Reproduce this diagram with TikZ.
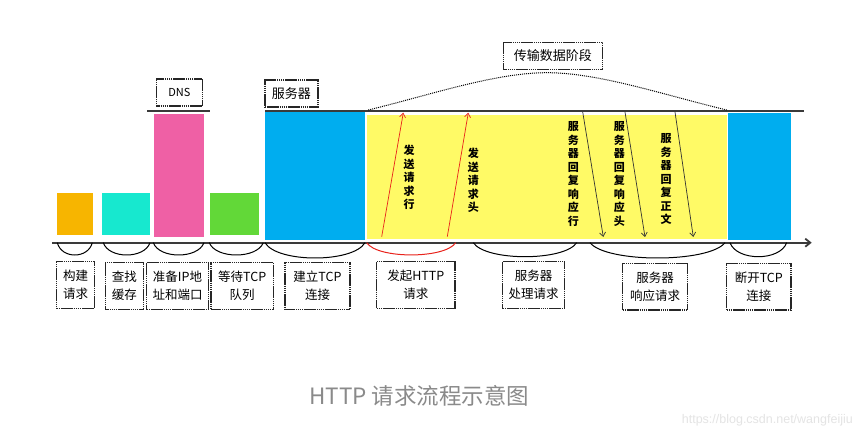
\documentclass[tikz,border=0pt]{standalone}
\usepackage{fontspec}
\setmainfont{Noto Sans CJK SC}
\newfontfamily\wmfont{Liberation Sans}
\usetikzlibrary{arrows.meta}
\definecolor{cOrange}{HTML}{F7B500}
\definecolor{cCyan}{HTML}{17E8CF}
\definecolor{cPink}{HTML}{EF60A5}
\definecolor{cGreen}{HTML}{62D838}
\definecolor{cBlue}{HTML}{00ADEF}
\definecolor{cYellow}{HTML}{FFFA66}
\definecolor{cLine}{HTML}{3A3A3A}
\definecolor{cRed}{HTML}{E8221B}
\definecolor{cTitle}{HTML}{8A8A8A}
\definecolor{cWm}{HTML}{E4E4E4}
\begin{document}
\begin{tikzpicture}[x=1pt,y=-1pt,
  bar/.style={draw=none,inner sep=0pt,outer sep=0pt,anchor=north west},
  lbl/.style={draw=black!85,line width=1.4pt,dash pattern=on 1.6pt off 0.5pt,
    inner sep=0pt,align=center,font=\fontsize{12.5}{18}\selectfont},
  vlbl/.style={inner sep=0pt,align=center,font=\bfseries\fontsize{11}{13.5}\selectfont},
  arcline/.style={line width=1pt,black},
  sendarrow/.style={cRed,line width=0.7pt,-{Straight Barb[length=4pt,width=6pt]}},
  replyarrow/.style={black!80,line width=0.7pt,-{Straight Barb[length=4pt,width=6pt]}}]
\useasboundingbox (0,0) rectangle (862,438);
\fill[white] (0,0) rectangle (862,438);
% bars
\node[bar,fill=cOrange,minimum width=36pt,minimum height=42.6pt] (b1) at (57.3,192.7) {};
\node[bar,fill=cCyan,minimum width=48.6pt,minimum height=42.6pt] (b2) at (101.7,192.7) {};
\node[bar,fill=cPink,minimum width=49.7pt,minimum height=122.4pt] (b3) at (154.3,114.3) {};
\node[bar,fill=cGreen,minimum width=49pt,minimum height=42.6pt] (b4) at (209.7,192.7) {};
\node[bar,fill=cBlue,minimum width=100pt,minimum height=128pt] (b5) at (265,112) {};
\node[bar,fill=cYellow,minimum width=360pt,minimum height=124pt] (b6) at (366.7,115) {};
\node[bar,fill=cBlue,minimum width=62.4pt,minimum height=127.3pt] (b7) at (728.3,112.7) {};
% lines
\coordinate (dnsL) at (147.3,111);
\coordinate (dnsR) at (210,111);
\draw[cLine,line width=1.8pt] (dnsL) -- (dnsR);
\coordinate (srvL) at (265,111);
\coordinate (srvR) at (804.3,111);
\draw[cLine,line width=2pt] (srvL) -- (srvR);
\coordinate (axL) at (52,242.7);
\coordinate (axR) at (811.7,242.7);
\draw[cLine,line width=1.8pt,-{Straight Barb[length=5pt,width=8pt]}] (axL) -- (axR);
% top labels
\node[lbl,minimum width=46pt,minimum height=27pt,font=\fontsize{11}{13}\selectfont] (dns) at (179.3,92.5) {DNS};
\node[lbl,minimum width=53pt,minimum height=27pt,font=\fontsize{13}{15}\selectfont] (srv) at (291.3,93.5) {服务器};
\node[lbl,minimum width=99pt,minimum height=27pt,font=\fontsize{13}{15}\selectfont] (phase) at (552.8,55.8) {传输数据阶段};
% dotted arc
\coordinate (dL) at (368.3,110);
\coordinate (dT) at (547,72.7);
\coordinate (dR) at (726.7,110);
\draw[line width=1pt,dash pattern=on 1pt off 1pt] (dL) .. controls (430,95) and (495,72.7) .. (dT) .. controls (599,72.7) and (664,95) .. (dR);
% send arrows
\coordinate (s1a) at (381.7,236.7); \coordinate (s1b) at (403.3,112.7);
\coordinate (s2a) at (447.3,236.7); \coordinate (s2b) at (468.3,112.7);
\draw[sendarrow] (s1a) -- (s1b);
\draw[sendarrow] (s2a) -- (s2b);
% reply arrows
\coordinate (r1a) at (582.7,112); \coordinate (r1b) at (603.3,237);
\coordinate (r2a) at (625,112); \coordinate (r2b) at (645,237);
\coordinate (r3a) at (675,112); \coordinate (r3b) at (693.3,237);
\draw[replyarrow] (r1a) -- (r1b);
\draw[replyarrow] (r2a) -- (r2b);
\draw[replyarrow] (r3a) -- (r3b);
% vertical labels
\node[vlbl] (v1) at (409,177.4) {发\\送\\请\\求\\行};
\node[vlbl] (v2) at (473.3,180.3) {发\\送\\请\\求\\头};
\node[vlbl] (v3) at (573.3,174) {服\\务\\器\\回\\复\\响\\应\\行};
\node[vlbl] (v4) at (619.3,174) {服\\务\\器\\回\\复\\响\\应\\头};
\node[vlbl] (v5) at (666,179.2) {服\\务\\器\\回\\复\\正\\文};
% arcs under axis
\foreach \xa/\xb/\d in {57.3/92.3/255, 103.3/150/255, 153.3/204/255, 209.3/263.3/255, 265/365/258, 473.3/576.7/256.7, 590/725/258, 730/786.7/256.7}{
  \pgfmathsetmacro{\w}{\xb-\xa}
  \pgfmathsetmacro{\c}{242.7+(\d-242.7)*4/3}
  \draw[arcline] (\xa,242.7) .. controls (\xa+0.12*\w,\c) and (\xb-0.12*\w,\c) .. (\xb,242.7);
}
\draw[arcline,cRed] (366.7,242.7) .. controls (377.4,259) and (445,259) .. (455.7,242.7);
% bottom labels
\node[lbl,minimum width=37.6pt,minimum height=46.6pt] (l1) at (75.5,285) {构建\\请求};
\node[lbl,minimum width=38pt,minimum height=46.6pt] (l2) at (124.3,286) {查找\\缓存};
\node[lbl,minimum width=61.6pt,minimum height=46.6pt] (l3) at (177.5,286) {准备IP地\\址和端口};
\node[lbl,minimum width=62.3pt,minimum height=46.6pt] (l4) at (242.2,286) {等待TCP\\队列};
\node[lbl,minimum width=65pt,minimum height=46.6pt] (l5) at (317.5,286) {建立TCP\\连接};
\node[lbl,minimum width=78.3pt,minimum height=46.6pt] (l6) at (415.8,285) {发起HTTP\\请求};
\node[lbl,minimum width=61.6pt,minimum height=46.6pt] (l7) at (533.5,285) {服务器\\处理请求};
\node[lbl,minimum width=65pt,minimum height=46.6pt] (l8) at (655.2,286.6) {服务器\\响应请求};
\node[lbl,minimum width=64.3pt,minimum height=46.6pt] (l9) at (758.8,286.6) {断开TCP\\连接};
% title and watermark
\node[inner sep=0pt,text=cTitle,font=\fontsize{22.5}{26}\selectfont] (title) at (419.2,396) {HTTP 请求流程示意图};
\node[inner sep=0pt,anchor=east,text=cWm,font=\wmfont\fontsize{12.5}{14}\selectfont] (wm) at (853,420) {https://blog.csdn.net/wangfeijiu};
\end{tikzpicture}
\end{document}
